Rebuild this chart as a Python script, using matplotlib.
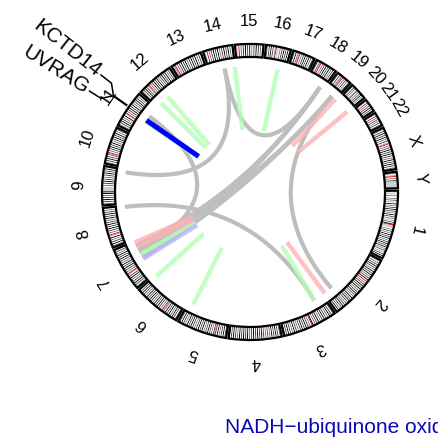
import numpy as np
import matplotlib
matplotlib.use("Agg")
import matplotlib.pyplot as plt
from matplotlib.patches import Wedge

plt.rcParams["font.family"] = ["Liberation Sans", "DejaVu Sans"]

# genome layout (hg19, Mb)
chrom_names = ["1", "2", "3", "4", "5", "6", "7", "8", "9", "10", "11", "12",
               "13", "14", "15", "16", "17", "18", "19", "20", "21", "22", "X", "Y"]
chrom_sizes = [249.3, 243.2, 198.0, 191.2, 180.9, 171.1, 159.1, 146.4, 141.2, 135.5,
               135.0, 133.9, 115.2, 107.3, 102.5, 90.4, 81.2, 78.1, 59.1, 63.0,
               48.1, 51.3, 155.3, 59.4]

# cytoband stains, one char per equal slice: 0 gneg, 1-4 gpos25..100, c acen, v gvar, s stalk
chrom_bands = [
    "0101020020301040203040302040302010304c" "vvv0203020403040203040304020301030402",
    "0102030403020403040203040" "c" "020304030402030403020403040302030403020402",
    "020304020304030204030204" "c" "0203040304030203040203040304",
    "0203040304020" "c" "02030403040304030204030403040203040304",
    "0304030204031" "c" "0203040302040304030203040304020304030",
    "02030402040304021" "c" "020304030402030403040203040302",
    "0203040302040301" "c" "02030403040203040304020304",
    "030403020401" "c" "02030403040302040304030201",
    "0203040302041" "c" "vvvv02030403020304030402",
    "02030403021" "c" "0203040304020304030402030",
    "02030403020401" "c" "0203040304020304030201",
    "0203040301" "c" "02030403040203040304020302",
    "1s1" "c" "02030403040203040304020302",
    "0s0" "c" "020304030402030403040201",
    "0s0" "c" "0203040304020304030201",
    "0203040301" "c" "vv020304030402",
    "0304021" "c" "020304030402031",
    "03021" "c" "0203040304020302",
    "0203021" "c" "020302031",
    "02030201" "c" "0203040201",
    "0s0" "c" "0203040301",
    "0s0" "c" "02030203021",
    "0203040304020301" "c" "0203040304030204030403021",
    "0201" "c" "0203vvvvvvv",
]
stain_colors = {"0": "white", "1": "#A6A6A6", "2": "#737373", "3": "#404040",
                "4": "black", "c": "red", "v": "#CFCFCF", "s": "#87CEEB"}

# links (chrom, Mb) -> (chrom, Mb)
link_chr1 = ["14", "9", "19", "8", "11", "7", "7", "7", "7"]
link_pos1 = [63.3, 130.6, 38.6, 140.7, 92.7, 141.0, 125.0, 105.0, 85.0]
link_chr2 = ["18", "14", "2", "3", "7", "18", "19", "18", "19"]
link_pos2 = [63.0, 63.3, 203.7, 39.9, 113.9, 63.0, 38.6, 63.0, 38.6]

# single-position tracks drawn as radial ticks
seg_chr = ["14", "16", "12", "12", "6", "5", "3", "11", "7",
           "19", "20", "2", "7", "7", "7"]
seg_pos = [106.0, 59.2, 23.3, 61.9, 165.2, 160.3, 39.9, 66.0, 100.0,
           58.0, 62.0, 238.6, 154.0, 132.0, 77.0]
seg_color = ["#B3FFB3"] * 9 + ["#FFB3B3"] * 5 + ["#B3B3FF"]

hit_chr = "11"
hit_pos = 72.5

gene_names = ["UVRAG", "KCTD14"]
gene_chr = ["11", "11"]
gene_pos = [75.5, 77.7]

title = "NADH\u2212ubiquinone oxidoreductase complex I"

gap = 0.95
start = -0.5
scale = (360.0 - gap * len(chrom_sizes)) / sum(chrom_sizes)
offsets = {}
acc = start
for name, size in zip(chrom_names, chrom_sizes):
    offsets[name] = acc
    acc += size * scale + gap


def angle(chrom, pos):
    return -(offsets[chrom] + pos * scale)


def polar(r, deg):
    t = np.radians(deg)
    return r * np.cos(t), r * np.sin(t)


fig = plt.figure(figsize=(4.38, 4.46), dpi=100)
ax = fig.add_axes([0, 0, 1, 1])
ax.set_xlim(-1.689, 1.270)
ax.set_ylim(-1.716, 1.297)
ax.axis("off")

r_out, ring_w = 1.0, 0.088
r_link, r_inner = 0.851, 0.422

# ideogram
for name, size, bands in zip(chrom_names, chrom_sizes, chrom_bands):
    n = len(bands)
    i = 0
    while i < n:
        j = i
        while j + 1 < n and bands[j + 1] == bands[i]:
            j += 1
        p0 = size * i / n
        p1 = size * (j + 1) / n
        ax.add_patch(Wedge((0, 0), r_out, angle(name, p1), angle(name, p0),
                           width=ring_w, facecolor=stain_colors[bands[i]],
                           edgecolor="none"))
        i = j + 1
    ax.add_patch(Wedge((0, 0), r_out, angle(name, size), angle(name, 0),
                       width=ring_w, fill=False, edgecolor="black", lw=1.6))
    mid = angle(name, size / 2)
    x, y = polar(1.155, mid)
    ax.text(x, y, name, rotation=(mid - 90) % 360, rotation_mode="anchor",
            ha="center", va="center", fontsize=12)

# links as quadratic bezier curves through the centre
t = np.linspace(0, 1, 120)
for c1, p1, c2, p2 in zip(link_chr1, link_pos1, link_chr2, link_pos2):
    x0, y0 = polar(r_link, angle(c1, p1))
    x2, y2 = polar(r_link, angle(c2, p2))
    bx = (1 - t) ** 2 * x0 + t ** 2 * x2
    by = (1 - t) ** 2 * y0 + t ** 2 * y2
    ax.plot(bx, by, color="#BEBEBE", lw=3.0, solid_capstyle="butt")

for c, p, col in zip(seg_chr, seg_pos, seg_color):
    a = angle(c, p)
    xa, ya = polar(r_link, a)
    xb, yb = polar(r_inner, a)
    ax.plot([xa, xb], [ya, yb], color=col, alpha=0.8, lw=3.2, solid_capstyle="butt")

a = angle(hit_chr, hit_pos)
xa, ya = polar(r_link, a)
xb, yb = polar(r_inner, a)
ax.plot([xa, xb], [ya, yb], color="blue", lw=3.6, solid_capstyle="butt")

# gene labels with connectors
gene_ang = [angle(c, p) for c, p in zip(gene_chr, gene_pos)]
centre = np.mean(gene_ang)
spread = 6.0
label_ang = [centre + spread * (len(gene_names) - 1) / 2 - spread * k
             for k in range(len(gene_names))]
for g, ga, la in zip(gene_names, gene_ang, label_ang):
    pts = [polar(1.02, ga), polar(1.13, ga), polar(1.19, la), polar(1.28, la)]
    ax.plot([q[0] for q in pts], [q[1] for q in pts], color="black", lw=1.1)
    x, y = polar(1.30, la)
    ax.text(x, y, g, rotation=(la - 180) % 360, rotation_mode="anchor",
            ha="right", va="center", fontsize=15)

ax.text(-0.169, -1.628, title, color="#0A0AB4", fontsize=15,
        ha="left", va="baseline")

fig.savefig("out.png", dpi=100)
